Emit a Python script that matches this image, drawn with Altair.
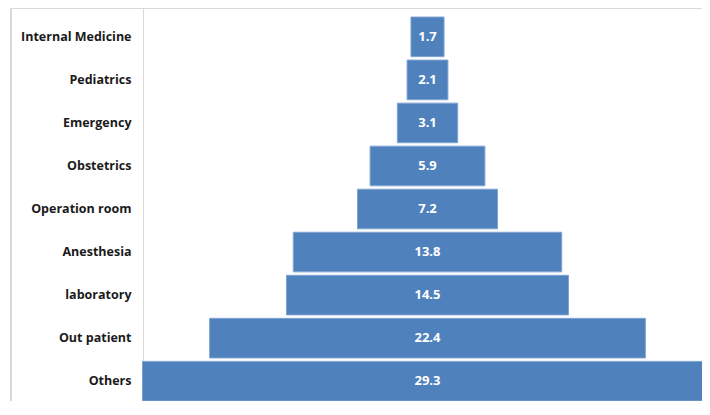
import altair as alt
import pandas as pd

categories = ["Internal Medicine", "Pediatrics", "Emergency", "Obstetrics",
              "Operation room", "Anesthesia", "laboratory", "Out patient", "Others"]
values = [1.7, 2.1, 3.1, 5.9, 7.2, 13.8, 14.5, 22.4, 29.3]

df = pd.DataFrame({"dept": categories, "pct": values})

baseline = -max(values) / 2
x_min, x_max = -21.41, 14.11

x_scale = alt.Scale(domain=[x_min, x_max], nice=False, zero=False)
y_scale = alt.Scale(paddingInner=0.08, paddingOuter=0.105, align=1)

base = alt.Chart(df).transform_calculate(lo="-datum.pct/2", hi="datum.pct/2", mid="0")

bars = base.mark_bar(color="#4F81BD", stroke="#7fa3d2", strokeWidth=1, clip=True).encode(
    x=alt.X("lo:Q", scale=x_scale,
            axis=alt.Axis(orient="top", values=[baseline], grid=True,
                          gridColor="#d9d9d9", gridWidth=1, labels=False, ticks=False,
                          domain=True, domainColor="#d9d9d9", domainWidth=1, title=None)),
    x2="hi:Q",
    y=alt.Y("dept:N", sort=categories, scale=y_scale,
            axis=alt.Axis(title=None, orient="left", domain=False, ticks=False, tickSize=0,
                          labelPadding=-120, labelFont="Open Sans", labelFontWeight="bold",
                          labelFontSize=12.5, labelColor="#1a1a1a", grid=False)),
)

frame_left = alt.Chart(df).mark_rule(color="#d9d9d9", strokeWidth=1.2).encode(
    x=alt.datum(x_min, scale=x_scale)
)

text = base.mark_text(color="white", font="Open Sans", fontWeight="bold", fontSize=13).encode(
    x=alt.X("mid:Q", scale=x_scale),
    y=alt.Y("dept:N", sort=categories, scale=y_scale),
    text=alt.Text("pct:Q", format=".1f"),
)

chart = alt.layer(bars, frame_left, text).properties(
    width=691, height=393,
    padding={"left": 3, "top": 0, "right": 0, "bottom": 0},
    autosize=alt.AutoSizeParams(type="none"),
).configure_view(stroke=None)

chart.save("out.html", embed_options={"renderer": "svg", "actions": False})
